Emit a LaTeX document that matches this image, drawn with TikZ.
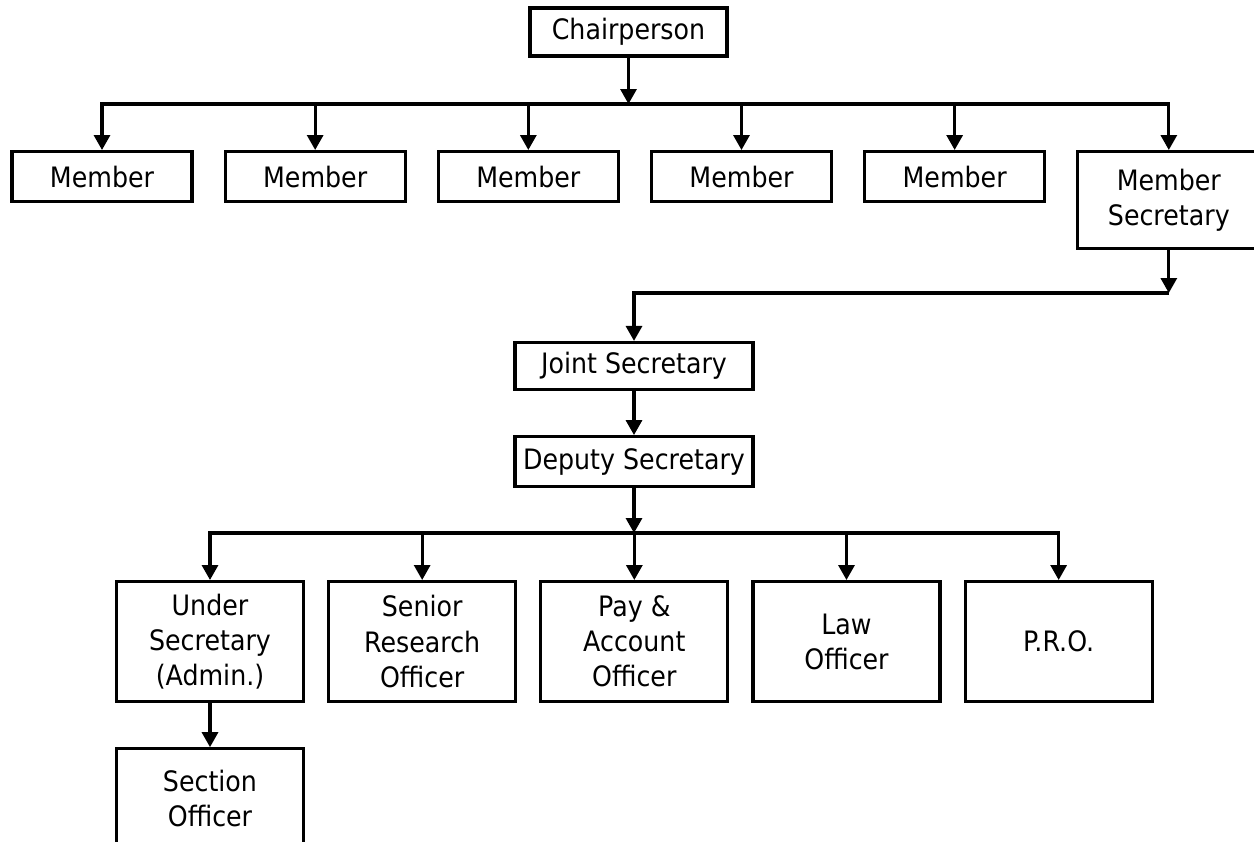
\documentclass[tikz,border=0pt]{standalone}
\usepackage{fontspec}
\setmainfont{DejaVu Sans}[FakeStretch=0.9]
\usepackage{tikz}
\usetikzlibrary{positioning,arrows.meta}

\begin{document}
\begin{tikzpicture}
    [ box/.style =
      { draw, line width=1.8pt, align=center, inner sep=0pt
      , font=\fontsize{16}{20}\selectfont }
    , member/.style =
      { box, minimum width=3.6cm, minimum height=1cm, anchor=north }
    , officer/.style =
      { box, minimum width=3.74cm, minimum height=2.4cm, anchor=north }
    , edge/.style =
      { line width=1.8pt, line cap=rect }
    , link/.style =
      { line width=1.8pt, -{Triangle[length=.3cm,width=.32cm]} }
    ]
    \useasboundingbox (0,0) rectangle (25.08,-16.82);

    % top level
    \node [box, minimum width=3.94cm, minimum height=.96cm] (chair) at (12.57,-.64) {Chairperson};

    \node [member] (m1) at (2.04,-3) {Member};
    \node [member] (m2) [right=.6cm of m1] {Member};
    \node [member] (m3) [right=.6cm of m2] {Member};
    \node [member] (m4) [right=.6cm of m3] {Member};
    \node [member] (m5) [right=.6cm of m4] {Member};
    \node [member, minimum width=3.64cm, minimum height=1.94cm] (msec)
      [below right=0cm and .6cm of m5.north east] {Member\\Secretary};

    % secretariat
    \node [box, minimum width=4.76cm, minimum height=.94cm] (jsec) at (12.68,-7.32) {Joint Secretary};
    \node [box, minimum width=4.76cm, minimum height=1cm] (dsec) [below=.88cm of jsec] {Deputy Secretary};

    \node [officer] (usec) at (4.2,-11.6) {Under\\Secretary\\(Admin.)};
    \node [officer] (sro) [right=.44cm of usec] {Senior\\Research\\Officer};
    \node [officer] (pao) [right=.44cm of sro] {Pay \&\\Account\\Officer};
    \node [officer] (law) [right=.44cm of pao] {Law\\Officer};
    \node [officer] (pro) [right=.44cm of law] {P.R.O.};
    \node [officer, minimum height=2cm] (so) [below=.88cm of usec] {Section\\Officer};

    \coordinate (bus1) at (0,-2.08);
    \coordinate (bus2) at (0,-5.86);
    \coordinate (bus3) at (0,-10.66);

    \draw [link] (chair) -- (chair |- bus1);
    \draw [edge] (m1 |- bus1) -- (msec |- bus1);
    \foreach \n in {m1,m2,m3,m4,m5,msec}
      \draw [link] (\n |- bus1) -- (\n);

    \draw [link] (msec) -- (msec |- bus2);
    \draw [link] (msec |- bus2) -| (jsec);
    \draw [link] (jsec) -- (dsec);

    \draw [link] (dsec) -- (dsec |- bus3);
    \draw [edge] (usec |- bus3) -- (pro |- bus3);
    \foreach \n in {usec,sro,pao,law,pro}
      \draw [link] (\n |- bus3) -- (\n);
    \draw [link] (usec) -- (so);
\end{tikzpicture}
\end{document}
